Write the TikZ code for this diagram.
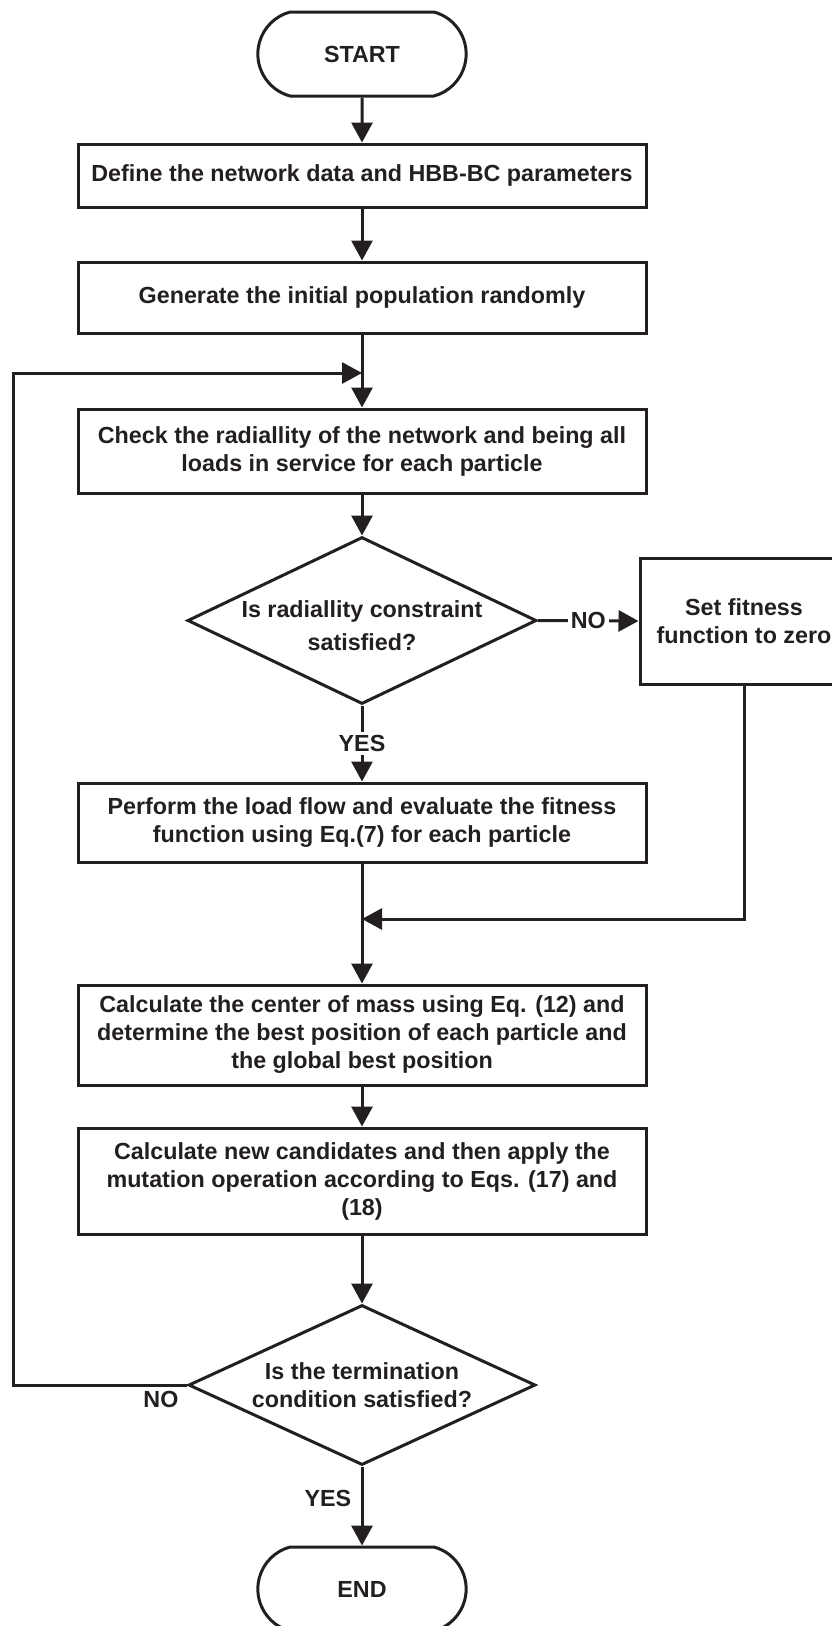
\documentclass[tikz,border=0pt]{standalone}
\usepackage{fontspec}
\setmainfont{Liberation Sans}
\usetikzlibrary{arrows.meta,shapes.geometric,shapes.misc,positioning}
\definecolor{ink}{HTML}{231F20}
\tikzset{flow/.style={-{Triangle[length=20pt,width=21pt]}, line width=3pt},
  blk/.style={draw, line width=3pt, minimum width=568pt, align=center, inner sep=0pt},
  term/.style={draw, line width=3pt, rounded rectangle, rounded rectangle arc length=150, minimum width=215pt, minimum height=84pt},
  ask/.style={draw, diamond, line width=3pt, inner sep=0pt},
  tag/.style={fill=white, inner sep=3pt}}

\begin{document}
\begin{tikzpicture}[x=1pt, y=-1pt, color=ink, font=\bfseries\fontsize{23.3}{28}\selectfont]
  \useasboundingbox (0,0) rectangle (832,1626);
  % main column
  \node[term] (start) at (362,54) {START};
  \node[blk, minimum height=63pt] (box1) at (362,175.5) {Define the network data and HBB-BC parameters};
  \node[blk, minimum height=71pt] (box2) at (362,297.5) {Generate the initial population randomly};
  \node[blk, minimum height=84pt] (box3) at (362,451) {Check the radiallity of the network and being all\\loads in service for each particle};
  \node[ask, minimum width=349pt, minimum height=167pt,
    label={[align=center, font=\bfseries\fontsize{23.3}{33}\selectfont, yshift=-5pt]center:Is radiallity constraint\\satisfied?}] (dia1) at (362,620.5) {};
  \node[blk, minimum width=208pt, minimum height=126pt] (fit) at (744,621) {Set fitness\\function to zero};
  \node[blk, minimum height=79pt] (box4) at (362,822.5) {Perform the load flow and evaluate the fitness\\function using Eq.(7) for each particle};
  \node[blk, minimum height=100pt] (box5) at (362,1035) {Calculate the center of mass using Eq. (12) and\\determine the best position of each particle and\\the global best position};
  \node[blk, minimum height=106pt] (box6) at (362,1181) {Calculate new candidates and then apply the\\mutation operation according to Eqs. (17) and\\(18)};
  \node[ask, minimum width=347pt, minimum height=160pt,
    label={[align=center]center:Is the termination\\condition satisfied?}] (dia2) at (362,1385) {};
  \node[term] (end) at (362,1589) {END};
  % join points
  \coordinate (back) at (362,373);
  \coordinate (join) at (362,919);
  \coordinate (rail) at (13,1385);
  % connectors
  \draw[flow] (start) -- (box1);
  \draw[flow] (box1) -- (box2);
  \draw[flow] (box2) -- (box3);
  \draw[flow] (box3) -- (dia1);
  \draw[flow] (dia1.east) -- node[tag] (no1) {NO} (fit.west);
  \draw[flow] (dia1.south) -- node[tag] (yes1) {YES} (box4.north);
  \draw[flow] (fit.south) |- (join);
  \draw[flow] (box4) -- (box5);
  \draw[flow] (box5) -- (box6);
  \draw[flow] (box6) -- (dia2);
  \draw[flow] (dia2.west) -- node[pos=0.15, below=1pt] (no2) {NO} (rail) |- (back);
  \draw[flow] (dia2.south) -- node[pos=0.4, left=6pt] (yes2) {YES} (end.north);
\end{tikzpicture}
\end{document}
